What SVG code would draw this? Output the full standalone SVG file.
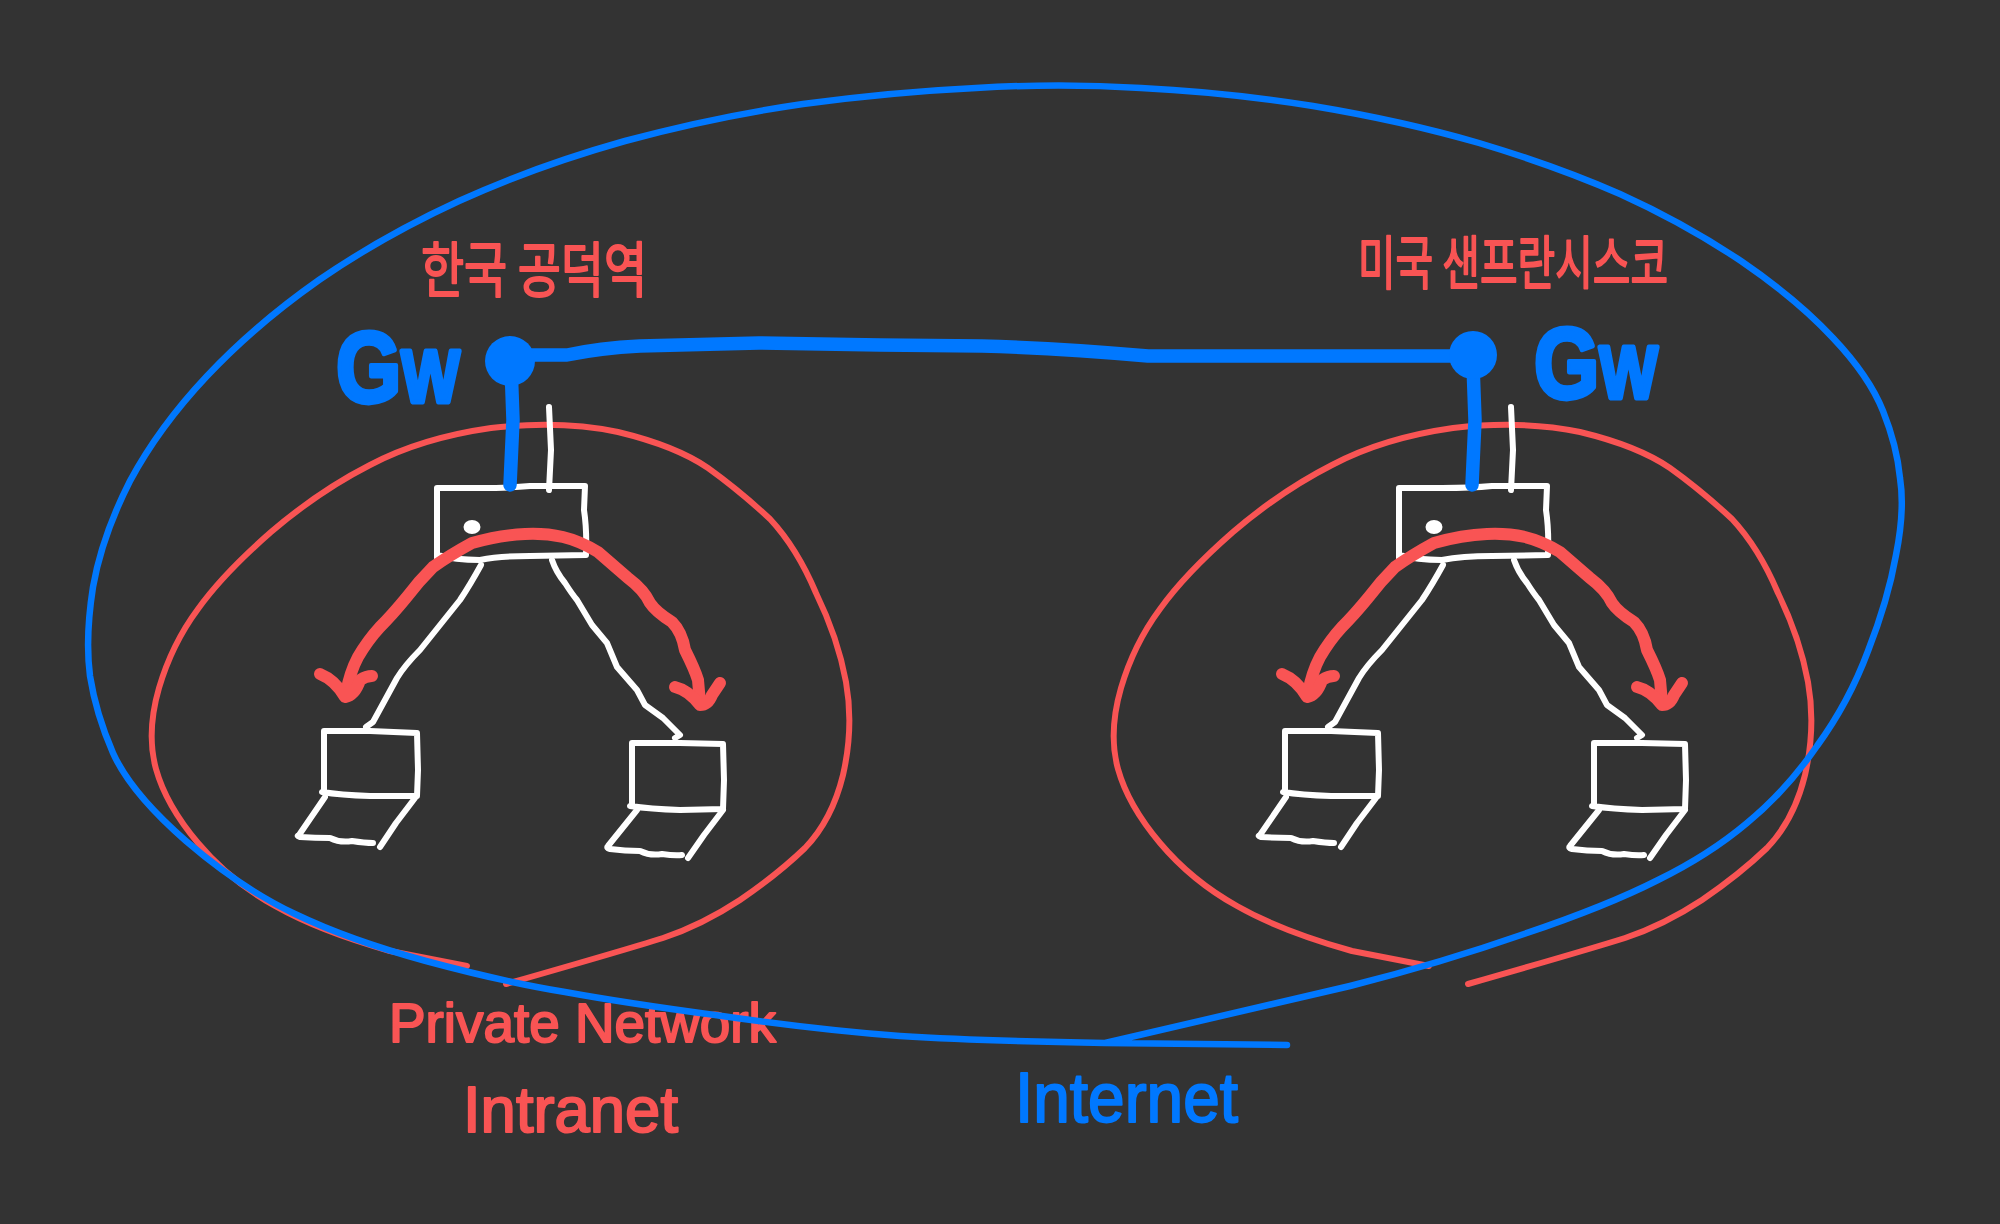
<svg xmlns="http://www.w3.org/2000/svg" xmlns:xlink="http://www.w3.org/1999/xlink" width="2000" height="1224" viewBox="0 0 2000 1224">
<style>
.s{fill:none;stroke-linecap:round;stroke-linejoin:round}
.w{stroke:#fff;stroke-width:6}
.r{stroke:#f95454;stroke-width:6}
.ra{stroke:#f95454;stroke-width:12}
.b{stroke:#0078ff;stroke-width:6.5}
.bl{stroke:#0078ff;stroke-width:13.5}
.tr{fill:#f95454;stroke:#f95454}
.tb{fill:#0078ff;stroke:#0078ff}
text{font-family:"Liberation Sans","Noto Sans CJK KR",sans-serif;stroke-linejoin:round;stroke-width:2}
.ko{font-family:"Noto Sans CJK KR",sans-serif;stroke-width:2}
.gw{font-weight:700;stroke-width:4}
</style>
<defs>
<path id="blob" class="s r" d="M467,966 L390,951 Q319,931 275,906 Q230,881 198,843 Q166,805 156,769 Q146,733 159,688 Q172,644 198,609 Q223,574 271,532 Q319,491 370,465 Q421,438 491,428 Q561,420 618,432 Q676,446 708,468 Q740,491 770,519 Q797,548 816,593 Q838,638 846,682 Q854,727 843,775 Q832,820 805,848 Q778,874 740,900 Q702,925 663,938 Q625,950 506,984"/>
<g id="sw">
<path class="s w" d="M437,558 L437,488 L480,488 Q510,488 530,486 L585,486 L584,510 Q587,530 586,555 L530,556 Q500,556 480,560 Q455,560 437,555"/>
<ellipse cx="472" cy="527" rx="8.5" ry="7" fill="#fff"/>
<path class="s w" d="M549,407 L551,450 L549,490"/>
</g>
<g id="lap1">
<path class="s w" d="M324,790 L324,731 L370,731 L417,733 L418,770 L417,796 L370,796 Q340,795 322,792"/>
<path class="s w" d="M325,797 L299,835 Q296,836 300,837 Q315,838 330,838 Q340,843 352,841 Q365,843 373,843"/>
<path class="s w" d="M415,798 L396,823 L380,847"/>
</g>
<g id="lap2">
<path class="s w" d="M632,805 L632,743 L680,743 L723,744 L724,780 L723,809 L680,810 Q650,809 630,806"/>
<path class="s w" d="M637,810 L608,846 Q606,848 610,849 Q625,851 640,851 Q650,856 662,854 Q675,856 682,855"/>
<path class="s w" d="M723,810 L704,835 L688,858"/>
</g>
<g id="legs">
<path class="s w" d="M481,565 Q470,585 460,600 L420,650 Q405,665 397,678 L373,722 L366,727"/>
<path class="s w" d="M552,560 Q556,572 565,583 Q572,594 577,600 L592,625 L607,643 L617,667 L637,690 L645,705 L663,718 L680,735 L675,738"/>
</g>
<g id="arrows">
<path class="s ra" d="M346,693 Q350,672 358,657 Q368,640 380,627 Q392,615 406,598 Q418,582 433,567 Q450,555 472,543 Q500,535 525,534 Q545,533 563,537 Q580,541 598,552 L628,578 Q644,590 650,603 Q656,612 672,622 Q682,632 685,650 Q695,670 698,680 L700,703"/>
<path class="s ra" d="M320,674 Q335,680 345,697 Q355,695 360,680 Q366,676 372,676"/>
<path class="s ra" d="M675,687 Q688,690 700,705 Q708,705 712,695 L720,683"/>
</g>
<path id="drop" class="s bl" d="M511,365 L513,420 L510,485"/>
</defs>
<rect width="2000" height="1224" fill="#333"/>

<g id="network-korea"><use href="#blob"/></g>
<g id="network-usa"><use href="#blob" transform="translate(962,0)"/></g>

<g id="switch-korea"><use href="#sw"/></g>
<g id="switch-usa"><use href="#sw" transform="translate(962,0)"/></g>
<g id="laptop-korea-1"><use href="#lap1"/></g>
<g id="laptop-korea-2"><use href="#lap2"/></g>
<g id="laptop-usa-1"><use href="#lap1" transform="translate(961,0)"/></g>
<g id="laptop-usa-2"><use href="#lap2" transform="translate(962,0)"/></g>

<g id="label-korea"><text class="ko tr" x="421" y="292" font-size="60" textLength="226" lengthAdjust="spacingAndGlyphs">한국 공덕역</text></g>
<g id="label-usa"><text class="ko tr" x="1358" y="284" font-size="58" textLength="310" lengthAdjust="spacingAndGlyphs">미국 샌프란시스코</text></g>
<g id="label-private"><text class="tr" x="389" y="1042" font-size="56" textLength="387" lengthAdjust="spacingAndGlyphs">Private Network</text></g>
<g id="label-intranet"><text class="tr" x="463" y="1132" font-size="64" textLength="215" lengthAdjust="spacingAndGlyphs">Intranet</text></g>
<g id="label-internet"><text class="tb" x="1015" y="1122" font-size="70" textLength="223" lengthAdjust="spacingAndGlyphs">Internet</text></g>

<g id="connectors">
<use href="#legs"/>
<use href="#legs" transform="translate(962,0)"/>
<use href="#arrows"/>
<use href="#arrows" transform="translate(962,0)"/>
<use href="#drop"/>
<use href="#drop" transform="translate(962,0)"/>
<path class="s bl" d="M510,357 L533,355 L567,355 Q600,348 640,346 L759,343 L880,345 L982,346 Q1060,348 1148,356 L1474,356"/>
</g>

<g id="gateway-korea">
<circle cx="510" cy="361" r="25" fill="#0078ff"/>
<text class="gw tb" transform="translate(336,402) scale(1,1.2)" font-size="84">G<tspan font-size="62">W</tspan></text>
</g>
<g id="gateway-usa">
<circle cx="1473" cy="355" r="24" fill="#0078ff"/>
<text class="gw tb" transform="translate(1534,398) scale(1,1.2)" font-size="84">G<tspan font-size="62">W</tspan></text>
</g>

<g id="internet">
<path class="s b" d="M1287,1045 L1105,1043 Q980,1041 900,1036 Q820,1030 722,1016 Q625,1003 565,992 Q504,982 426,961 Q349,940 295,914 Q242,889 186,841 Q131,793 113,753 Q96,714 90,676 Q85,638 93,587 Q102,536 130,481 Q159,427 207,376 Q255,325 319,280 Q383,236 459,201 Q536,166 625,141 Q714,117 803,104 Q893,92 976,88 Q1059,83 1141,88 Q1224,92 1313,106 Q1403,121 1479,143 Q1556,166 1620,194 Q1684,223 1741,261 Q1798,300 1833,338 Q1869,376 1883,411 Q1897,446 1900,478 Q1905,510 1896,555 Q1888,600 1868,651 Q1849,702 1817,746 Q1786,791 1747,823 Q1709,855 1658,880 Q1607,906 1524,934 Q1441,963 1350,986 L1105,1043"/>
</g>
</svg>
